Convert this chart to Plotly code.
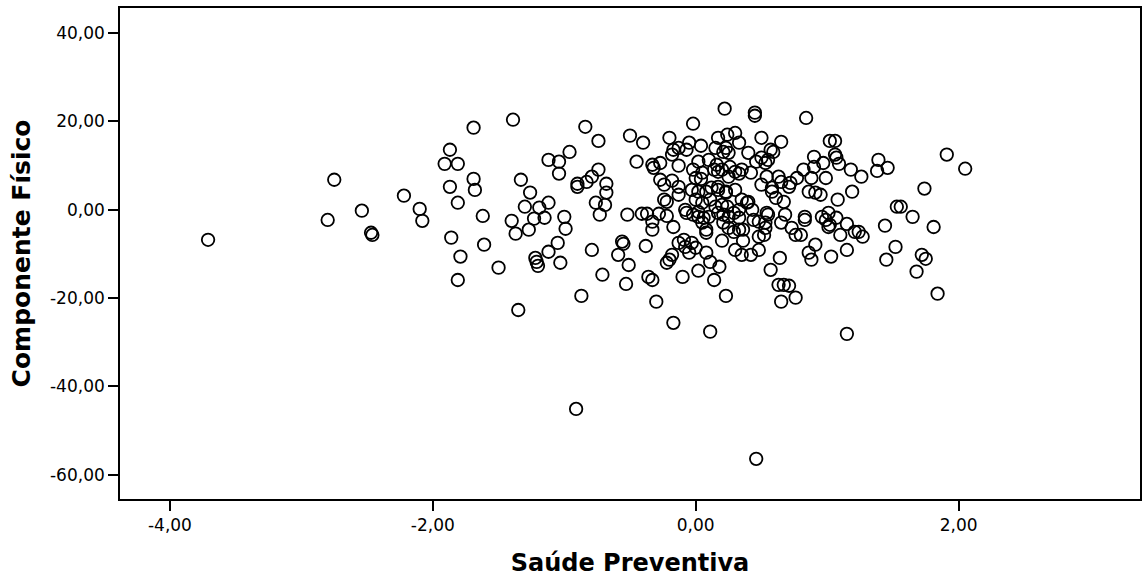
import plotly.graph_objects as go

# Saúde Preventiva (x) vs Componente Físico (y), one entry per respondent
saude_preventiva = [
    -3.71, -2.80, -2.75, -2.54, -2.47, -2.46, -2.22, -2.10, -2.08, -1.91,
    -1.87, -1.87, -1.86, -1.81, -1.81, -1.79, -1.81, -1.69, -1.69, -1.68,
    -1.62, -1.61, -1.50, -1.39, -1.40, -1.37, -1.35, -1.33, -1.30, -1.26,
    -1.27, -1.23, -1.22, -1.21, -1.20, -1.12, -1.04, -0.96, -1.12, -1.19,
    -1.15, -1.05, -1.12, -1.03, -1.04, -1.00, -0.99, -0.84, -0.74, -0.50,
    -0.40, -0.90, -0.90, -0.83, -0.79, -0.74, -0.68, -0.68, -0.76, -0.69,
    -0.73, -0.79, -0.87, -0.91, -0.71, -0.59, -0.56, -0.55, -0.51, -0.53,
    -0.52, -0.45, -0.38, -0.41, -0.37, -0.36, -0.33, -0.30, -0.33, -0.33,
    -0.33, -0.32, -0.27, -0.28, -0.22, -0.27, -0.24, -0.18, -0.13, -0.24,
    -0.22, -0.13, -0.20, -0.17, -0.18, -0.13, -0.05, -0.07, 0.04, -0.02,
    -0.13, -0.17, -0.22, -0.20, -0.18, -0.17, -0.13, -0.09, -0.08, -0.03,
    -0.05, 0.00, -0.10, 0.02, -0.07, -0.02, 0.02, 0.06, 0.10, 0.05,
    0.08, 0.08, -0.02, 0.02, 0.10, 0.16, 0.20, 0.14, 0.05, 0.00,
    0.04, -0.03, 0.02, 0.08, 0.12, 0.17, 0.23, 0.00, 0.05, 0.11,
    0.15, 0.20, -0.08, 0.02, 0.17, 0.24, 0.21, 0.22, 0.45, 0.45,
    0.84, 0.30, 0.33, 0.25, 0.40, 0.50, 0.65, 0.57, 0.59, 0.55,
    0.50, 0.46, 0.53, 0.15, 0.23, 0.26, 0.35, 0.33, 0.42, 0.17,
    0.30, 0.25, 0.54, 0.63, 0.65, 0.71, 0.72, 0.50, 0.58, 0.58,
    0.61, 0.67, 0.86, 0.91, 0.95, 1.08, 0.17, 0.23, 0.30, 0.35,
    0.40, 0.24, 0.33, 0.43, 0.39, 0.55, 0.68, 0.83, 0.96, 1.01,
    1.07, 1.02, 1.06, 0.90, 1.06, 1.07, 1.09, 0.97, 0.82, 0.90,
    0.88, 0.99, 0.77, 1.18, 1.26, 1.19, 1.39, 1.46, 1.38, 1.53,
    1.27, 1.24, 1.44, 1.52, 1.45, 1.15, 1.10, 1.21, 0.99, 1.02,
    1.01, 0.83, 0.80, 0.91, 0.86, 0.88, 1.15, 1.03, 0.64, 0.57,
    0.63, 0.67, 0.71, 0.76, 0.65, 0.23, 0.11, 1.15, 0.18, 0.14,
    0.08, 0.11, 0.17, 0.21, 0.25, 0.29, 0.33, 0.21, 0.25, 0.29,
    0.33, 0.36, 0.20, 0.36, 0.44, 0.48, 0.53, 0.54, 0.53, 0.52,
    0.48, 0.65, 0.73, 0.76, 0.30, 0.35, 0.42, 0.48, 1.91, 2.05,
    1.74, 1.56, 1.65, 1.81, 1.72, 1.75, 1.68, 1.84, 0.46,
]
componente_fisico = [
    -6.8, -2.3, 6.8, -0.2, -5.2, -5.7, 3.2, 0.2, -2.5, 10.4,
    13.6, 5.2, -6.3, 10.4, 1.6, -10.6, -15.9, 18.6, 7.0, 4.5,
    -1.4, -7.9, -13.1, 20.4, -2.5, -5.4, -22.7, 6.8, 0.7, 3.9,
    -4.5, -2.0, -10.9, -11.8, -12.7, 11.3, 10.9, 13.1, 1.6, 0.5,
    -1.8, -7.5, -9.5, -12.0, 8.2, -1.6, -4.3, 18.8, 15.6, 16.8,
    15.2, 5.9, 5.2, 6.3, 7.5, 9.1, 5.9, 3.9, 1.6, 1.1,
    -1.1, -9.1, -19.5, -45.1, -14.7, -10.2, -7.2, -7.7, -12.5, -16.8,
    -1.1, 10.9, -8.2, -0.9, -0.9, -15.2, -15.9, -20.8, -2.7, -4.5,
    10.2, 9.5, 10.6, -0.9, -1.4, 6.8, 5.7, 6.6, 5.2, 2.3,
    1.8, 3.4, 16.3, 13.6, 12.5, 14.0, 15.2, 13.6, 14.5, 19.5,
    10.0, -3.9, -12.0, -11.3, -10.2, -25.6, -7.5, -6.8, -8.4, -7.5,
    -9.7, -8.6, -15.2, -13.8, -0.7, -1.1, -1.6, -1.8, -1.6, -2.9,
    -4.5, -5.2, 9.1, 10.9, 11.3, 10.2, 9.1, 9.1, 8.4, 7.2,
    7.0, 4.5, 4.1, 4.1, 5.0, 4.5, 4.1, 2.3, 1.6, 2.3,
    0.7, 1.1, 0.0, -0.5, 16.3, 17.0, 13.1, 22.9, 22.0, 21.3,
    20.8, 17.4, 15.2, 12.9, 12.9, 16.3, 15.4, 13.6, 13.1, 11.3,
    11.8, 10.9, 10.6, 14.0, 14.0, 9.7, 9.1, 8.2, 8.4, 8.6,
    8.6, 7.5, 7.5, 7.5, 6.3, 5.2, 6.1, 5.7, 5.0, 4.1,
    2.7, 1.8, 4.1, 3.9, 3.4, 2.3, 5.2, 3.9, 4.5, 2.3,
    1.8, 0.7, 0.0, 0.0, 1.6, -1.1, -1.1, -1.6, -1.6, -0.7,
    -1.8, 15.6, 15.6, 12.0, 12.5, 11.8, 10.4, 10.6, 9.1, 9.7,
    7.2, 7.2, 7.2, 9.1, 7.5, 4.1, 11.3, 9.5, 8.8, 0.7,
    -6.1, -5.0, -3.6, -8.4, -11.3, -3.2, -5.7, -5.0, -2.3, -3.4,
    -3.9, -2.3, -5.7, -7.9, -9.7, -11.3, -9.1, -10.6, -10.9, -13.6,
    -17.0, -17.0, -17.2, -19.9, -20.8, -19.5, -27.6, -28.1, -12.9, -15.9,
    -9.7, -11.8, -0.7, -1.1, -1.6, -0.7, -1.8, -2.9, -4.1, -5.0,
    -4.5, -4.5, -7.0, -7.0, -2.3, -2.7, -2.9, -0.7, -4.1, -5.7,
    -6.1, -2.9, -4.1, -5.7, -9.1, -10.2, -10.2, -9.1, 12.5, 9.3,
    4.8, 0.7, -1.6, -3.9, -10.2, -11.1, -14.0, -19.0, -56.4,
]

x_ticks = [-4, -2, 0, 2]
x_tick_labels = ["-4,00", "-2,00", "0,00", "2,00"]
y_ticks = [40, 20, 0, -20, -40, -60]
y_tick_labels = ["40,00", "20,00", "0,00", "-20,00", "-40,00", "-60,00"]

TICK_FONT = "DejaVu Sans, Liberation Sans, Arial, sans-serif"
TITLE_FONT = "DejaVu Sans, Liberation Sans, Arial, sans-serif"

fig = go.Figure(
    go.Scatter(
        x=saude_preventiva,
        y=componente_fisico,
        mode="markers",
        marker=dict(
            symbol="circle-open",
            size=12.5,
            color="black",
            line=dict(width=1.8, color="black"),
        ),
        hoverinfo="x+y",
    )
)

axis_common = dict(
    showgrid=False,
    zeroline=False,
    showline=True,
    linecolor="black",
    linewidth=1.6,
    mirror=True,
    ticks="outside",
    ticklen=10,
    tickwidth=1.6,
    tickcolor="black",
    tickfont=dict(family=TICK_FONT, size=17, color="black"),
)

fig.update_xaxes(
    range=[-4.38, 3.38],
    tickvals=x_ticks,
    ticktext=x_tick_labels,
    ticklabelstandoff=0,
    title=dict(text="<b>Saúde Preventiva</b>",
               font=dict(family=TITLE_FONT, size=24, color="black"), standoff=20),
    **axis_common,
)
fig.update_yaxes(
    range=[-65.5, 45.7],
    tickvals=y_ticks,
    ticktext=y_tick_labels,
    title=dict(text="<b>Componente Físico</b>",
               font=dict(family=TITLE_FONT, size=25, color="black"), standoff=12),
    **axis_common,
)

fig.update_layout(
    width=1144,
    height=578,
    margin=dict(l=120, r=2, t=8, b=79),
    paper_bgcolor="white",
    plot_bgcolor="white",
    showlegend=False,
)

fig.write_html("out.html")
